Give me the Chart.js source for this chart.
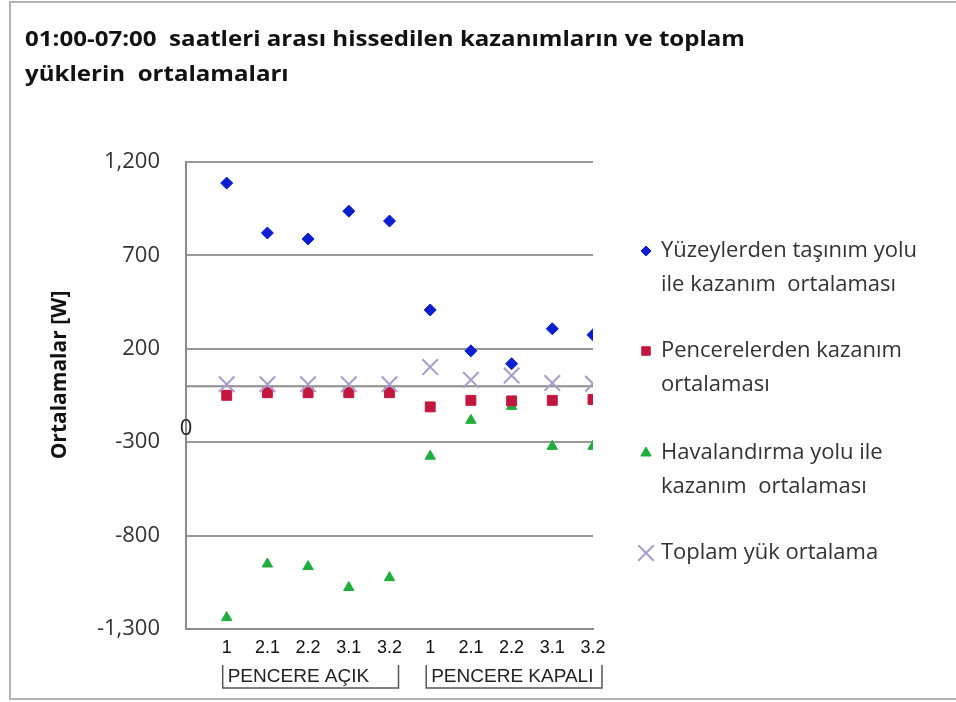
<!DOCTYPE html>
<html>
<head>
<meta charset="utf-8">
<script src="https://cdn.jsdelivr.net/npm/chart.js@4/dist/chart.umd.min.js"></script>
<style>
  html, body { margin: 0; padding: 0; background: #fff; }
  #wrap { width: 956px; height: 702px; }
</style>
</head>
<body>
<div id="wrap"><canvas id="chart"></canvas></div>
<script>
'use strict';

// values (W)
const categories = ['1', '2.1', '2.2', '3.1', '3.2', '1', '2.1', '2.2', '3.1', '3.2'];
const groups = ['PENCERE AÇIK', 'PENCERE KAPALI'];
const group_size = 5;

const surface_gain = [1087, 820, 788, 937, 884, 408, 189, 120, 307, 275];
const window_gain = [-49, -35, -35, -35, -35, -111, -76, -79, -76, -71];
const vent_gain = [-1239, -952, -966, -1078, -1025, -375, -183, -108, -322, -322];
const total_load = [10, 10, 10, 10, 10, 102, 34, 57, 17, 13];

const y_ticks = [-1300, -800, -300, 200, 700, 1200];
const y_title = 'Ortalamalar [W]';
const chart_title = ['01:00-07:00  saatleri arası hissedilen kazanımların ve toplam', 'yüklerin  ortalamaları'];

const series_names = [
    ['Yüzeylerden taşınım yolu', 'ile kazanım  ortalaması'],
    ['Pencerelerden kazanım', 'ortalaması'],
    ['Havalandırma yolu ile', 'kazanım  ortalaması'],
    ['Toplam yük ortalama'],
];

const to_points = (arr) => arr.map((v, i) => ({ x: i + 1, y: v }));

const frame_plugin = {
    id: 'frame',
    beforeDraw(chart) {
        const ctx = chart.ctx;
        ctx.save();
        ctx.fillStyle = '#fff';
        ctx.fillRect(0, 0, chart.width, chart.height);
        ctx.strokeStyle = '#b4b4b4';
        ctx.lineWidth = 2;
        ctx.strokeRect(10, 2, chart.width + 10, 697);

        // title is wider than the plot box, so drawn here; the source font is
        // a bit stretched, so scale it to the same width
        ctx.fillStyle = '#111';
        ctx.font = 'bold 21px "Open Sans"';
        ctx.textAlign = 'left';
        ctx.textBaseline = 'middle';
        const sx = 720 / ctx.measureText(chart_title[0]).width;
        chart_title.forEach((t, i) => {
            ctx.save();
            ctx.translate(25, 40 + i * 35);
            ctx.scale(sx, 1);
            ctx.fillText(t, 0, 0);
            ctx.restore();
        });
        ctx.restore();
    },
    beforeDatasetsDraw(chart) {
        // horizontal axis line at zero
        const ctx = chart.ctx;
        const ys = chart.scales.y;
        const area = chart.chartArea;
        const y0 = ys.getPixelForValue(0);
        ctx.save();
        ctx.strokeStyle = '#8c8c8c';
        ctx.lineWidth = 2;
        ctx.beginPath();
        ctx.moveTo(area.left, y0);
        ctx.lineTo(area.right, y0);
        ctx.stroke();
        ctx.restore();
    },
    afterDatasetsDraw(chart) {
        const ctx = chart.ctx;
        const xs = chart.scales.x;
        const ys = chart.scales.y;
        const area = chart.chartArea;
        ctx.save();

        // y axis title (sits a bit above the middle of the axis)
        ctx.save();
        ctx.translate(60, 375);
        ctx.rotate(-Math.PI / 2);
        ctx.fillStyle = '#111';
        ctx.font = 'bold 21px "Open Sans"';
        ctx.textAlign = 'center';
        ctx.textBaseline = 'middle';
        ctx.fillText(y_title, 0, 0);
        ctx.restore();

        // stray "0" on the left axis
        ctx.fillStyle = '#222';
        ctx.font = '22px "Open Sans"';
        ctx.textAlign = 'center';
        ctx.textBaseline = 'middle';
        ctx.fillText('0', area.left, ys.getPixelForValue(-230));

        // group labels with brackets
        ctx.font = '19px "Liberation Sans"';
        ctx.textAlign = 'left';
        ctx.strokeStyle = '#555';
        ctx.lineWidth = 1.5;
        groups.forEach((g, gi) => {
            const x0 = xs.getPixelForValue(gi * group_size + 1) - 4;
            const x1 = xs.getPixelForValue(gi * group_size + group_size) + 9;
            ctx.beginPath();
            ctx.moveTo(x0, 665);
            ctx.lineTo(x0, 688);
            ctx.lineTo(x1, 688);
            ctx.lineTo(x1, 665);
            ctx.stroke();
            ctx.fillStyle = '#222';
            ctx.fillText(g, x0 + 5, 677);
        });

        // legend
        const ds = chart.data.datasets;
        const rows = [251, 351, 453, 553];
        ctx.font = '22px "Open Sans"';
        ctx.textBaseline = 'middle';
        series_names.forEach((lines, i) => {
            const d = ds[i];
            const cy = rows[i];
            ctx.fillStyle = d.backgroundColor;
            ctx.strokeStyle = d.borderColor;
            ctx.lineWidth = d.borderWidth;
            Chart.helpers.drawPoint(ctx, {
                pointStyle: d.pointStyle,
                radius: d.legendRadius,
                borderWidth: d.borderWidth,
                rotation: 0,
            }, 646, cy);
            ctx.fillStyle = '#333';
            lines.forEach((t, li) => {
                ctx.fillText(t, 661, cy + li * 34);
            });
        });
        ctx.restore();
    },
};

new Chart(document.getElementById('chart'), {
    type: 'scatter',
    data: {
        datasets: [
            {
                label: series_names[0].join(' '),
                data: to_points(surface_gain),
                pointStyle: 'rectRot',
                pointRadius: 6,
                legendRadius: 5,
                backgroundColor: '#0b1ed0',
                borderColor: '#0b1ed0',
                borderWidth: 1,
                order: 2,
            },
            {
                label: series_names[1].join(' '),
                data: to_points(window_gain),
                pointStyle: 'rect',
                pointRadius: 7,
                legendRadius: 6,
                backgroundColor: '#c3173f',
                borderColor: '#c3173f',
                borderWidth: 1,
                order: 3,
            },
            {
                label: series_names[2].join(' '),
                data: to_points(vent_gain),
                pointStyle: 'triangle',
                pointRadius: 6,
                legendRadius: 6,
                backgroundColor: '#1fae3c',
                borderColor: '#1fae3c',
                borderWidth: 1,
                order: 4,
            },
            {
                label: series_names[3].join(' '),
                data: to_points(total_load),
                pointStyle: 'crossRot',
                pointRadius: 11,
                legendRadius: 11,
                backgroundColor: '#a99ccb',
                borderColor: '#a99ccb',
                borderWidth: 2,
                order: 1,
            },
        ],
    },
    options: {
        responsive: true,
        maintainAspectRatio: false,
        animation: false,
        layout: { padding: { left: 25, right: 363, top: 162, bottom: 0 } },
        plugins: {
            legend: { display: false },
            tooltip: { enabled: false },
            title: { display: false },
        },
        scales: {
            x: {
                type: 'linear',
                min: 0,
                max: categories.length,
                afterFit(scale) { scale.height = 73; },
                afterBuildTicks(scale) {
                    scale.ticks = categories.map((c, i) => ({ value: i + 1 }));
                },
                ticks: {
                    autoSkip: false,
                    maxRotation: 0,
                    padding: 8,
                    color: '#111',
                    font: { family: '"Liberation Sans"', size: 18 },
                    callback: (v) => categories[v - 1],
                },
                grid: { display: false, drawTicks: false },
                border: { display: true, color: '#8c8c8c', width: 2 },
            },
            y: {
                min: y_ticks[0],
                max: y_ticks[y_ticks.length - 1],
                afterFit(scale) { scale.width = 161; },
                afterBuildTicks(scale) {
                    scale.ticks = y_ticks.map((v) => ({ value: v }));
                },
                ticks: {
                    padding: 26,
                    color: '#333',
                    font: { family: '"Open Sans"', size: 22 },
                    callback: (v) => v.toLocaleString('en-US'),
                },
                grid: { color: '#999', lineWidth: 2, drawTicks: false },
                border: { display: true, color: '#8c8c8c', width: 2 },
            },
        },
    },
    plugins: [frame_plugin],
});
</script>
</body>
</html>
